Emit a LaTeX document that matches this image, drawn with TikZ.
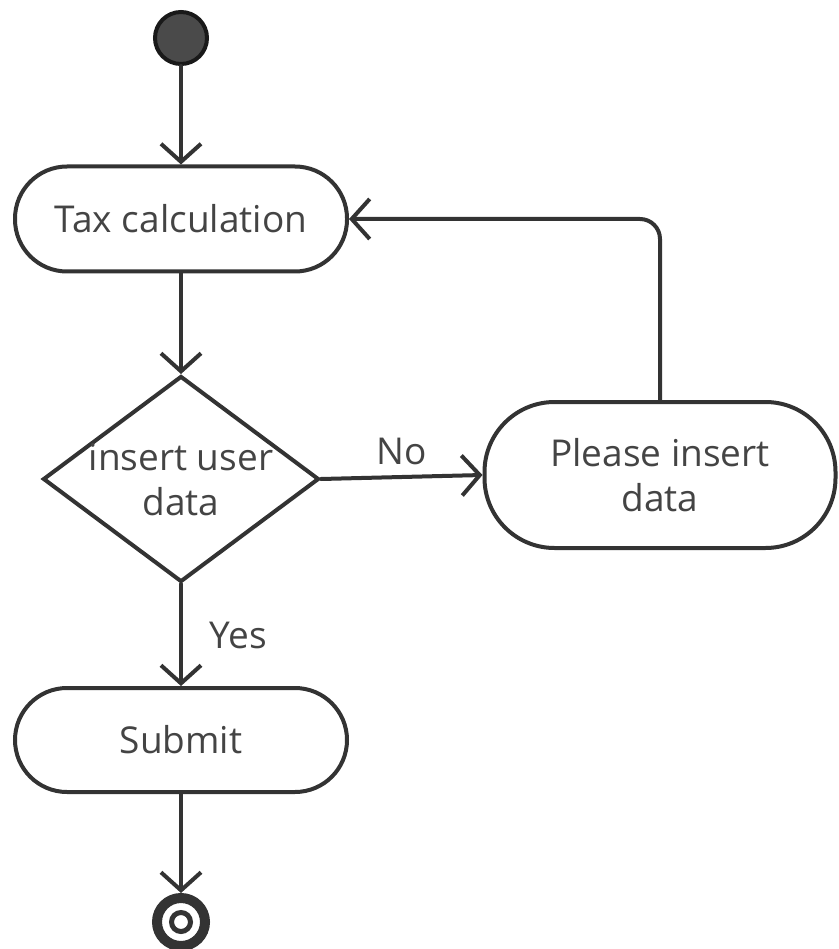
\documentclass[tikz,border=0pt]{standalone}
\usepackage{fontspec}
\setmainfont{Open Sans}
\usetikzlibrary{arrows.meta,shapes.geometric}
\definecolor{ln}{HTML}{333333}
\definecolor{tx}{HTML}{444444}
\definecolor{startfill}{HTML}{4A4A4A}
\begin{document}
\begin{tikzpicture}[x=1pt,y=-1pt,
  txt/.style={font=\fontsize{37}{45}\selectfont, text=tx, align=center},
  act/.style={txt, draw=ln, line width=4pt, rounded corners=52pt, minimum height=105pt, inner sep=0pt},
  flow/.style={draw=ln, line width=4pt, line cap=round, -{Straight Barb[length=18pt,width=40pt]}},
  lbl/.style={txt}
]
\useasboundingbox (0,0) rectangle (838,949);
\node[circle, draw=black!90, fill=startfill, line width=4pt, minimum size=52pt, inner sep=0pt] (s) at (181,38) {};
\node[act, minimum width=332pt] (t) at (181,219) {Tax calculation};
\node[diamond, draw=ln, line width=4pt, minimum width=276pt, minimum height=206pt, inner sep=0pt] (d) at (181,479) {};
\node[txt] (dt) at (181,480) {insert user\\data};
\node[act, minimum width=351pt, minimum height=146pt, rounded corners=70pt] (p) at (660,475) {Please insert\\data};
\node[act, minimum width=332pt, minimum height=104pt] (sub) at (181,740) {Submit};
\node[circle, draw=ln, line width=10pt, minimum size=48pt, inner sep=0pt] (e) at (181,922) {};
\draw[draw=ln, line width=5pt] (e.center) circle[radius=9.5pt];

\draw[flow] (s) -- (t);
\draw[flow] (t) -- (d);
\draw[flow] (d.east) -- node[lbl, midway, yshift=26pt] (no) {No} (p.west);
\draw[flow] (d) -- node[lbl, midway, xshift=57pt] (yes) {Yes} (sub);
\draw[flow, rounded corners=20pt] (p.north) |- (t.east);
\draw[flow] (sub) -- (e);
\end{tikzpicture}
\end{document}
